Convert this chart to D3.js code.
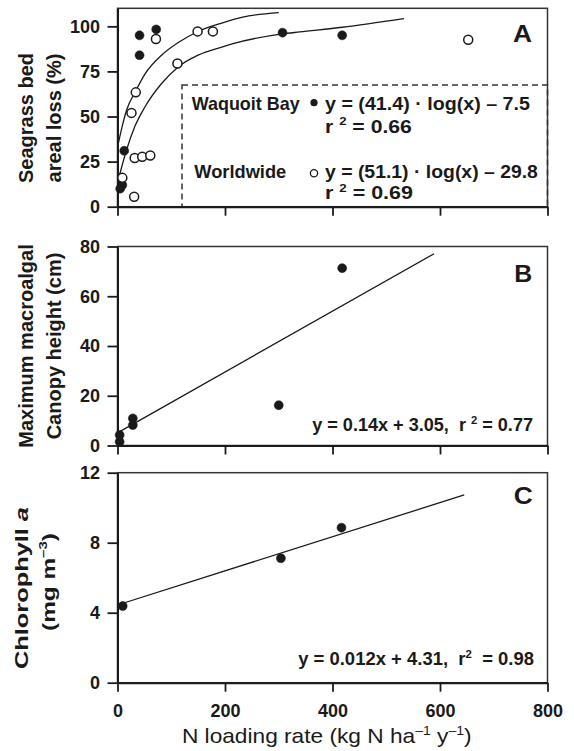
<!DOCTYPE html>
<html>
<head>
<meta charset="utf-8">
<script src="https://cdn.jsdelivr.net/npm/d3@7"></script>
<style>
  body { margin: 0; background: #fff; }
  text { font-family: "Liberation Sans", Arial, Helvetica, sans-serif; fill: #1a1a1a; white-space: pre; }
</style>
</head>
<body>
<script>
// ---- data ----
var xTicks = [0, 200, 400, 600, 800];

// A: seagrass bed areal loss (%) vs N loading
var yTicksA = [0, 25, 50, 75, 100];
var waquoitPts = [[5, 10], [9, 12], [12.5, 31], [41, 95], [41, 84], [72, 98.3], [307, 96.5], [418, 95]];
var worldPts = [[9, 16], [31, 5.5], [32, 27], [46, 27.7], [61, 28.4], [26, 52], [34, 63.4],
  [71.5, 93], [111.5, 79.4], [149, 97.2], [177.5, 97.2], [652.5, 92.6]];
var waquoitFit = [[1.5, 35], [7.5, 43], [16.8, 53.5], [33.6, 64], [51, 73.5], [82, 84], [113, 91],
  [149, 97], [194, 101.8], [233, 105.1], [300, 107.6]];
var worldFit = [[3, 16.6], [16.8, 31.4], [32, 44.3], [51, 55.3], [82, 68.3], [113, 77.5], [150, 84],
  [194, 88.5], [215, 90.4], [307, 95.8], [339, 96.9], [418, 99.5], [533, 104.3]];

// B: maximum macroalgal canopy height (cm)
var yTicksB = [0, 20, 40, 60, 80];
var canopyPts = [[4, 1.5], [4, 4.2], [28.5, 8.2], [28.5, 10.9], [300, 16.2], [418, 71.3]];
var canopyFit = [[0, 5.1], [589, 77.1]];

// C: chlorophyll a (mg m-3)
var yTicksC = [0, 4, 8, 12];
var chlPts = [[9.7, 4.38], [304, 7.11], [416.7, 8.86]];
var chlFit = [[0, 4.44], [645, 10.73]];

// ---- layout ----
var width = 574, height = 751;
var ink = "#1a1a1a";

var svg = d3.select("body").append("svg")
  .attr("width", width)
  .attr("height", height);

var x = d3.scaleLinear().domain([0, 800]).range([117.5, 547.5]);

var yA = d3.scaleLinear().domain([0, 110]).range([206.7, 8.3]);
var yB = d3.scaleLinear().domain([0, 80]).range([445.5, 246.5]);
var yC = d3.scaleLinear().domain([0, 12]).range([682.7, 472.7]);

// text helper: parts are strings or {t, sup, it}; width stretches the text horizontally
function label(x0, y0, opts, parts) {
  var size = opts.size || 17.5;
  var g = svg.append("g")
    .attr("transform", "translate(" + x0 + "," + y0 + ")" + (opts.rotate ? " rotate(-90)" : ""));
  var t = g.append("text")
    .attr("text-anchor", opts.anchor || "start")
    .style("font-size", size + "px")
    .style("font-weight", opts.weight || "bold");
  var raised = false;
  parts.forEach(function (p) {
    var s = typeof p === "string" ? { t: p } : p;
    var ts = t.append("tspan").text(s.t);
    if (s.sup) {
      ts.style("font-size", (size * 0.62) + "px").attr("dy", -size * 0.42);
      raised = true;
    } else if (raised) {
      ts.attr("dy", size * 0.42);
      raised = false;
    }
    if (s.it) ts.style("font-style", "italic");
  });
  if (opts.width) {
    var w = t.node().getComputedTextLength();
    t.attr("transform", "scale(" + (opts.width / w) + ",1)");
  }
  return t;
}

function drawPanel(y, yTicks, showX) {
  var r = y.range();
  svg.append("rect")
    .attr("x", x.range()[0])
    .attr("y", r[1])
    .attr("width", x.range()[1] - x.range()[0])
    .attr("height", r[0] - r[1])
    .attr("fill", "none")
    .attr("stroke", "#333")
    .attr("stroke-width", 1.5);

  var gy = svg.append("g")
    .attr("transform", "translate(" + x.range()[0] + ",0)")
    .call(d3.axisLeft(y).tickValues(yTicks).tickSize(10).tickSizeOuter(0).tickPadding(7.5));

  var gx = svg.append("g")
    .attr("transform", "translate(0," + r[0] + ")")
    .call(d3.axisBottom(x).tickValues(xTicks).tickSize(9).tickSizeOuter(0).tickPadding(12.5)
      .tickFormat(showX ? d3.format("d") : ""));

  [gy, gx].forEach(function (g) {
    g.select(".domain").attr("stroke", ink).attr("stroke-width", 2);
    g.selectAll(".tick line").attr("stroke", ink).attr("stroke-width", 1.8);
    g.selectAll(".tick text")
      .attr("fill", ink)
      .style("font-family", "'Liberation Sans', Arial, Helvetica, sans-serif")
      .style("font-size", "18px")
      .style("font-weight", "bold");
  });
}

function dots(data, y, open, rad) {
  svg.append("g").selectAll("circle")
    .data(data)
    .join("circle")
    .attr("cx", function (d) { return x(d[0]); })
    .attr("cy", function (d) { return y(d[1]); })
    .attr("r", rad || 4.5)
    .attr("fill", open ? "#fff" : ink)
    .attr("stroke", ink)
    .attr("stroke-width", open ? 1.5 : 0.5);
}

function fitLine(data, y, curve) {
  var line = d3.line()
    .x(function (d) { return x(d[0]); })
    .y(function (d) { return y(d[1]); })
    .curve(curve || d3.curveLinear);
  svg.append("path")
    .datum(data)
    .attr("d", line)
    .attr("fill", "none")
    .attr("stroke", ink)
    .attr("stroke-width", 1.3);
}

/*------------------------- panel A -------------------------*/
svg.append("rect")
  .attr("x", 182).attr("y", 85)
  .attr("width", x.range()[1] - 182)
  .attr("height", yA(0) - 85)
  .attr("fill", "none")
  .attr("stroke", "#333")
  .attr("stroke-width", 1.5)
  .attr("stroke-dasharray", "6,4");

drawPanel(yA, yTicksA, false);
fitLine(waquoitFit, yA, d3.curveMonotoneX);
fitLine(worldFit, yA, d3.curveMonotoneX);
dots(waquoitPts, yA, false);
dots(worldPts, yA, true);

// legend inside dashed box
svg.append("circle").attr("cx", 314).attr("cy", 102.7).attr("r", 3.6).attr("fill", ink);
svg.append("circle").attr("cx", 314).attr("cy", 173.3).attr("r", 3.6)
  .attr("fill", "#fff").attr("stroke", ink).attr("stroke-width", 1.3);
label(191.7, 110, { width: 108 }, ["Waquoit Bay"]);
label(325, 110, { width: 205 }, ["y = (41.4) · log(x) – 7.5"]);
label(325, 132.5, { width: 87 }, ["r ", { t: "2", sup: true }, " = 0.66"]);
label(194.3, 177.5, { width: 92 }, ["Worldwide"]);
label(325, 177.5, { width: 213 }, ["y = (51.1) · log(x) – 29.8"]);
label(325, 199, { width: 88 }, ["r ", { t: "2", sup: true }, " = 0.69"]);
label(532, 41.7, { anchor: "end", size: 24, width: 19 }, ["A"]);

label(32.5, 118, { rotate: true, anchor: "middle", size: 20 }, ["Seagrass bed"]);
label(60.5, 118, { rotate: true, anchor: "middle", size: 20 }, ["areal loss (%)"]);

/*------------------------- panel B -------------------------*/
drawPanel(yB, yTicksB, false);
fitLine(canopyFit, yB);
dots(canopyPts, yB, false);
label(533, 431, { anchor: "end", width: 221 }, ["y = 0.14x + 3.05,  r ", { t: "2", sup: true }, " = 0.77"]);
label(532.3, 281.5, { anchor: "end", size: 24, width: 18 }, ["B"]);

label(32.5, 346, { rotate: true, anchor: "middle", size: 20 }, ["Maximum macroalgal"]);
label(60.5, 346, { rotate: true, anchor: "middle", size: 20 }, ["Canopy height (cm)"]);

/*------------------------- panel C -------------------------*/
drawPanel(yC, yTicksC, true);
fitLine(chlFit, yC);
dots(chlPts, yC, false);
label(534, 665, { anchor: "end", width: 236 }, ["y = 0.012x + 4.31,  r", { t: "2", sup: true }, "  = 0.98"]);
label(532.7, 504, { anchor: "end", size: 24, width: 19 }, ["C"]);

label(28, 588, { rotate: true, anchor: "middle", size: 18.5, width: 162 }, ["Chlorophyll ", { t: "a", it: true }]);
label(55, 582, { rotate: true, anchor: "middle", size: 18.5, width: 98 }, ["(mg m", { t: "–3", sup: true }, ")"]);

// shared x title
label(326.8, 743.3, { anchor: "middle", size: 20, weight: "normal", width: 290 },
  ["N loading rate (kg N ha", { t: "–1", sup: true }, " y", { t: "–1", sup: true }, ")"]);
</script>
</body>
</html>
